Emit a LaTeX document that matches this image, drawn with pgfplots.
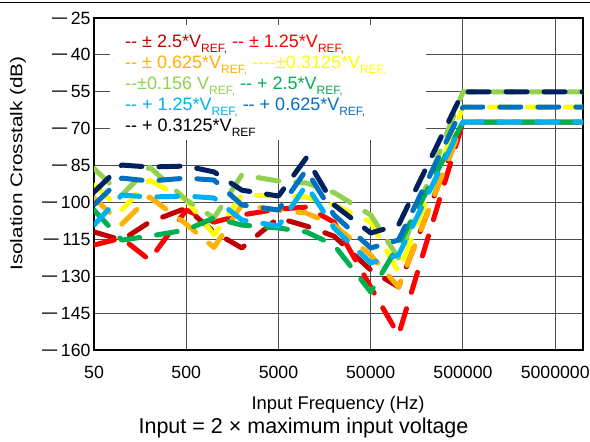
\documentclass[border=0pt]{standalone}
\usepackage{pgfplots}
\pgfplotsset{compat=1.18}
\usepackage{fontspec}
\setmainfont{Liberation Sans}
\definecolor{cDR}{HTML}{C00000}
\definecolor{cR}{HTML}{FF0000}
\definecolor{cO}{HTML}{FFB000}
\definecolor{cY}{HTML}{FFFF00}
\definecolor{cLG}{HTML}{92D050}
\definecolor{cG}{HTML}{00B050}
\definecolor{cLB}{HTML}{00B0F0}
\definecolor{cB}{HTML}{0070C0}
\definecolor{cN}{HTML}{002060}
\newcommand{\mn}{\scalebox{1.75}[1]{−}\kern0.12em}
\newcommand{\VR}[1]{V\raisebox{-4.3bp}{\fontsize{12bp}{12bp}\selectfont REF#1}}
\newcommand{\tfont}{\fontsize{17.7bp}{20bp}\selectfont}
\newcommand{\lfont}{\fontsize{18bp}{21bp}\selectfont}
\begin{document}
\begin{tikzpicture}
\path[use as bounding box] (0,0) rectangle (590bp,442bp);
\begin{axis}[
  at={(94bp,92bp)}, anchor=south west,
  scale only axis, width=489bp, height=332bp,
  xmode=log, xmin=50, xmax=1e7, ymin=-160, ymax=-25,
  xtick={50,500,5000,50000,500000,5000000},
  xticklabels={50,500,5000,50000,500000,5000000},
  ytick={-160,-145,-130,-115,-100,-85,-70,-55,-40,-25},
  yticklabels={{\mn160},{\mn145},{\mn130},{\mn115},{\mn100},{\mn85},{\mn70},{\mn55},{\mn40},{\mn25}},
  minor xtick={}, minor ytick={},
  grid=major,
  major grid style={draw=black!70, line width=1bp},
  axis line style={line width=2.5bp},
  tick style={draw=none},
  xticklabel style={font=\tfont, anchor=base, yshift=-28.3bp},
  yticklabel style={font=\tfont},
  every axis plot/.append style={line width=5bp, line cap=round, line join=round, dash pattern=on 21bp off 17bp, no marks},
]
\addplot[cDR] coordinates {(50,-112) (100,-115.3) (200,-108) (500,-102.3) (1000,-112) (2000,-118.5) (5000,-106.3) (10000,-109.6) (20000,-113.7) (50000,-127.5) (100000,-134.4) (500000,-67.3) (10000000,-67.3)};
\addplot[cR] coordinates {(50,-117.3) (100,-114.5) (200,-123.4) (500,-103.1) (1000,-108) (2000,-105.1) (5000,-102.7) (10000,-101.9) (20000,-108) (50000,-134.4) (100000,-153.9) (500000,-67.3) (10000000,-67.3)};
\addplot[cO] coordinates {(50,-98.2) (100,-108.8) (200,-97.8) (500,-108.8) (1000,-118.3) (2000,-101) (5000,-103.1) (10000,-104.3) (20000,-109.2) (50000,-121.4) (100000,-134.4) (500000,-67.3) (10000000,-67.3)};
\addplot[cY] coordinates {(50,-92.9) (100,-103.1) (200,-90.9) (500,-99) (1000,-113.2) (2000,-97) (5000,-97.4) (10000,-97.8) (20000,-101) (50000,-108) (100000,-128.3) (500000,-61.2) (10000000,-61.2)};
\addplot[cLG] coordinates {(50,-86.2) (100,-97) (200,-85.6) (500,-99) (1000,-106.3) (2000,-88.8) (5000,-91.3) (10000,-92.1) (20000,-96) (50000,-105.1) (100000,-122.6) (500000,-55) (10000000,-55)};
\addplot[cG] coordinates {(50,-103.1) (100,-115.3) (200,-113.7) (500,-111.2) (1000,-106.3) (2000,-109.2) (5000,-110.4) (10000,-112) (20000,-117.3) (50000,-136.4) (100000,-117.3) (500000,-67.3) (10000000,-67.3)};
\addplot[cLB] coordinates {(50,-109.2) (100,-97) (200,-97.8) (500,-97.4) (1000,-98.2) (2000,-107.1) (5000,-109.6) (10000,-92.9) (20000,-110.4) (50000,-124.6) (100000,-121.4) (500000,-67.3) (10000000,-67.3)};
\addplot[cB] coordinates {(50,-101) (100,-90.1) (200,-91.3) (500,-90.1) (1000,-90.9) (2000,-101) (5000,-103.1) (10000,-86.8) (20000,-105.1) (50000,-118.5) (100000,-115.3) (500000,-61.2) (10000000,-61.2)};
\addplot[cN] coordinates {(50,-95.8) (100,-84.8) (200,-85.6) (500,-85.2) (1000,-87.6) (2000,-95) (5000,-97.4) (10000,-81.9) (20000,-101) (50000,-112.4) (100000,-109.2) (500000,-55) (10000000,-55)};
\fill[white] (axis cs:74.7,-27.85) rectangle (axis cs:198000,-74.6);
\end{axis}
\draw[line width=0.8bp] (0,440bp) -- (590bp,440bp);
\node[anchor=base west, font=\lfont, inner sep=0pt] at (125bp,394bp) {\textcolor{cDR}{-{}- ± 2.5*\VR{,}} \textcolor{cR}{-{}- ± 1.25*\VR{,}}};
\node[anchor=base west, font=\lfont, inner sep=0pt] at (125bp,373bp) {\textcolor{cO}{-{}- ± 0.625*\VR{,}} \textcolor{cY}{-{}-{}-{}-±0.3125*\VR{,}}};
\node[anchor=base west, font=\lfont, inner sep=0pt] at (125bp,352bp) {\textcolor{cLG}{-{}-±0.156 \VR{,}} \textcolor{cG}{-{}- + 2.5*\VR{,}}};
\node[anchor=base west, font=\lfont, inner sep=0pt] at (125bp,331bp) {\textcolor{cLB}{-{}- + 1.25*\VR{,}} \textcolor{cB}{-{}- + 0.625*\VR{,}}};
\node[anchor=base west, font=\lfont, inner sep=0pt] at (125bp,310bp) {\textcolor{black}{-{}- + 0.3125*\VR{}}};
\node[anchor=base, font=\fontsize{18.4bp}{21bp}\selectfont, inner sep=0pt] at (338bp,32.7bp) {Input Frequency (Hz)};
\node[anchor=base, font=\fontsize{21.5bp}{24bp}\selectfont, inner sep=0pt] at (303.5bp,8.7bp) {Input = 2 × maximum input voltage};
\node[anchor=south, rotate=90, inner sep=0pt] at (26bp,278.5bp) {\scalebox{1.22}[1]{\fontsize{17bp}{20bp}\selectfont Isolation Crosstalk (dB)}};
\end{tikzpicture}
\end{document}
